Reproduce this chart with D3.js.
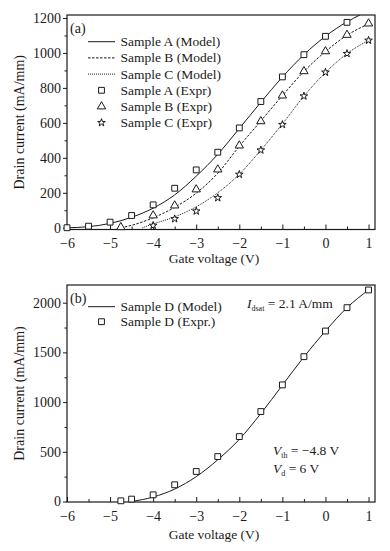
<!DOCTYPE html>
<html><head><meta charset="utf-8">
<script src="https://cdn.jsdelivr.net/npm/d3@7"></script>
<style>
body{margin:0;background:#fff;}
svg{display:block;font-family:"Liberation Serif","Times New Roman",serif;}
</style></head>
<body><svg id="c" width="390" height="551"></svg>
<script>
// ---------- Data ----------
const xTicks = [-6,-5,-4,-3,-2,-1,0,1];
const yTicksA = [0,200,400,600,800,1000,1200];
const yTicksB = [0,500,1000,1500,2000];

// Panel (a) model curves
const modelAx = [-6,-5.5,-5,-4.5,-4,-3.5,-3,-2.5,-2,-1.5,-1,-0.5,0,0.5,0.8];
const modelAy = [0,6,25,60,112,188,295,420,568,718,862,990,1095,1178,1217];
const modelBx = [-4.75,-4.5,-4,-3.5,-3,-2.5,-2,-1.5,-1,-0.5,0,0.5,1];
const modelBy = [0,14,57,117,198,312,466,611,756,894,1008,1101,1166];
const modelCx = [-4.25,-4,-3.5,-3,-2.5,-2,-1.5,-1,-0.5,0,0.5,1];
const modelCy = [0,22,62,120,200,306,444,594,753,888,996,1072];

// Panel (a) experimental points
const exprAx = [-6,-5.5,-5,-4.5,-4,-3.5,-3,-2.5,-2,-1.5,-1,-0.5,0,0.5];
const exprAy = [0,9,32,70,131,226,331,432,571,722,863,990,1095,1175];
const exprBx = [-4.75,-4,-3.5,-3,-2.5,-2,-1.5,-1,-0.5,0,0.5,1];
const exprBy = [3,70,127,219,333,470,609,756,895,1009,1103,1168];
const exprCx = [-4,-3.5,-3,-2.5,-2,-1.5,-1,-0.5,0,0.5,1];
const exprCy = [13,51,95,171,305,444,590,753,889,996,1072];

// Panel (b)
const modelDx = [-4.5,-4,-3.5,-3,-2.5,-2,-1.5,-1,-0.5,0,0.5,1];
const modelDy = [0,45,125,250,420,625,885,1170,1455,1715,1950,2128];
const exprDx = [-4.75,-4.5,-4,-3.5,-3,-2.5,-2,-1.5,-1,-0.5,0,0.5,1];
const exprDy = [7,24,67,168,302,452,653,905,1173,1457,1715,1950,2128];

const legendA = ["Sample A (Model)","Sample B (Model)","Sample C (Model)","Sample A (Expr)","Sample B (Expr)","Sample C (Expr)"];
const legendB = ["Sample D (Model)","Sample D (Expr.)"];

// ---------- Drawing ----------
const svg = d3.select("#c");
const ink = "#1a1a1a";
const fmt = d => d < 0 ? "\u2212" + Math.abs(d) : String(d);
const fmtY = d => String(d);

function panel(cfg){
  const g = svg.append("g");
  const x = d3.scaleLinear().domain([-6,1.15]).range([67,375]);
  const y = d3.scaleLinear().domain(cfg.yDomain).range([cfg.bottom, cfg.top]);
  g.append("rect").attr("x",67).attr("y",cfg.top).attr("width",375-67).attr("height",cfg.bottom-cfg.top)
    .attr("fill","none").attr("stroke",ink).attr("stroke-width",1.2);
  const xa = g.append("g").attr("transform",`translate(0,${cfg.bottom})`)
    .call(d3.axisBottom(x).tickValues(xTicks).tickFormat(fmt).tickSizeInner(-5).tickSizeOuter(0).tickPadding(9));
  xa.select(".domain").remove();
  xa.selectAll("line").attr("stroke",ink);
  xa.selectAll("text").attr("font-size",14).attr("fill",ink).attr("font-family","Liberation Serif");
  const xm = g.append("g").attr("transform",`translate(0,${cfg.bottom})`)
    .call(d3.axisBottom(x).tickValues(d3.range(-5.5,1.01,1)).tickFormat("").tickSizeInner(-3).tickSizeOuter(0));
  xm.select(".domain").remove(); xm.selectAll("line").attr("stroke",ink);
  const ya = g.append("g").attr("transform","translate(67,0)")
    .call(d3.axisLeft(y).tickValues(cfg.yTicks).tickFormat(fmtY).tickSizeInner(4).tickSizeOuter(0).tickPadding(2));
  ya.select(".domain").remove();
  ya.selectAll("line").attr("stroke",ink);
  ya.selectAll("text").attr("font-size",14).attr("fill",ink).attr("font-family","Liberation Serif");
  const ym = g.append("g").attr("transform","translate(67,0)")
    .call(d3.axisLeft(y).tickValues(cfg.yMinor).tickFormat("").tickSizeInner(2.5).tickSizeOuter(0));
  ym.select(".domain").remove(); ym.selectAll("line").attr("stroke",ink);
  g.append("text").attr("x",214).attr("y",cfg.xTitleY).attr("text-anchor","middle")
    .attr("font-size",13.5).attr("fill",ink).text("Gate voltage (V)");
  g.append("text").attr("transform",`translate(24,${(cfg.top+cfg.bottom)/2}) rotate(-90)`)
    .attr("text-anchor","middle").attr("font-size",14).attr("fill",ink).text("Drain current (mA/mm)");
  const cid = "clip"+cfg.id;
  svg.append("clipPath").attr("id",cid).append("rect").attr("x",67).attr("y",cfg.top).attr("width",308).attr("height",cfg.bottom-cfg.top);
  return {g,x,y,cid};
}

function drawLine(p, xs, ys, dash){
  const pts = xs.map((v,i)=>[v,ys[i]]);
  p.g.append("path").datum(pts).attr("clip-path",`url(#${p.cid})`)
    .attr("d", d3.line().x(d=>p.x(d[0])).y(d=>p.y(d[1])).curve(d3.curveMonotoneX))
    .attr("fill","none").attr("stroke",ink).attr("stroke-width",1)
    .attr("stroke-dasharray",dash);
}
const sym = {
  square: d3.symbol().type(d3.symbolSquare).size(34),
  triangle: d3.symbol().type(d3.symbolTriangle).size(30),
  star: d3.symbol().type(d3.symbolStar).size(18)
};
function drawPts(p, xs, ys, type){
  p.g.append("g").selectAll("path").data(xs.map((v,i)=>[v,ys[i]])).join("path")
    .attr("transform",d=>`translate(${p.x(d[0])},${p.y(d[1])})`)
    .attr("d", sym[type]()).attr("fill","#fff").attr("stroke",ink).attr("stroke-width",1);
}

// Panel (a)
const pa = panel({id:"a", yDomain:[-10,1217], top:15, bottom:229.5, yTicks:yTicksA,
  yMinor:d3.range(100,1200,200), xTitleY:263});
drawLine(pa, modelAx, modelAy, null);
drawLine(pa, modelBx, modelBy, "2.5,1.5");
drawLine(pa, modelCx, modelCy, "1,1");
drawPts(pa, exprAx, exprAy, "square");
drawPts(pa, exprBx, exprBy, "triangle");
drawPts(pa, exprCx, exprCy, "star");

pa.g.append("text").attr("x",70).attr("y",33).attr("font-size",14).attr("fill",ink).text("(a)");
const dashes = [null,"2.5,1.5","1,1"];
const types = ["square","triangle","star"];
legendA.forEach((t,i)=>{
  const cy = 41.7 + i*16.2;
  pa.g.append("text").attr("x",120.5).attr("y",cy+4.5).attr("font-size",13.5).attr("fill",ink).text(t);
  if(i<3){
    pa.g.append("line").attr("x1",88).attr("x2",115).attr("y1",cy).attr("y2",cy)
      .attr("stroke",ink).attr("stroke-width",1).attr("stroke-dasharray",dashes[i]);
  } else {
    pa.g.append("path").attr("transform",`translate(101.5,${cy})`).attr("d",sym[types[i-3]]())
      .attr("fill","#fff").attr("stroke",ink).attr("stroke-width",1);
  }
});

// Panel (b)
const pb = panel({id:"b", yDomain:[-5,2178], top:285, bottom:502, yTicks:yTicksB,
  yMinor:d3.range(250,2100,500), xTitleY:539});
drawLine(pb, modelDx, modelDy, null);
drawPts(pb, exprDx, exprDy, "square");
pb.g.append("text").attr("x",70).attr("y",303).attr("font-size",14).attr("fill",ink).text("(b)");
legendB.forEach((t,i)=>{
  const cy = 306.7 + i*15;
  pb.g.append("text").attr("x",120.5).attr("y",cy+4.5).attr("font-size",13.5).attr("fill",ink).text(t);
  if(i===0){
    pb.g.append("line").attr("x1",88).attr("x2",115).attr("y1",cy).attr("y2",cy).attr("stroke",ink).attr("stroke-width",1);
  } else {
    pb.g.append("path").attr("transform",`translate(101.5,${cy})`).attr("d",sym.square())
      .attr("fill","#fff").attr("stroke",ink).attr("stroke-width",1);
  }
});
function subText(g, x, yb, main, sub, rest){
  const t = g.append("text").attr("x",x).attr("y",yb).attr("font-size",13.5).attr("fill",ink);
  t.append("tspan").attr("font-style","italic").text(main);
  t.append("tspan").attr("font-size",8).attr("dy",3).text(sub);
  t.append("tspan").attr("dy",-3).text(rest);
}
subText(pb.g, 247, 307.5, "I", "dsat", " = 2.1 A/mm");
subText(pb.g, 273, 455, "V", "th", " = \u22124.8 V");
subText(pb.g, 273, 473, "V", "d", " = 6 V");
</script></body></html>
